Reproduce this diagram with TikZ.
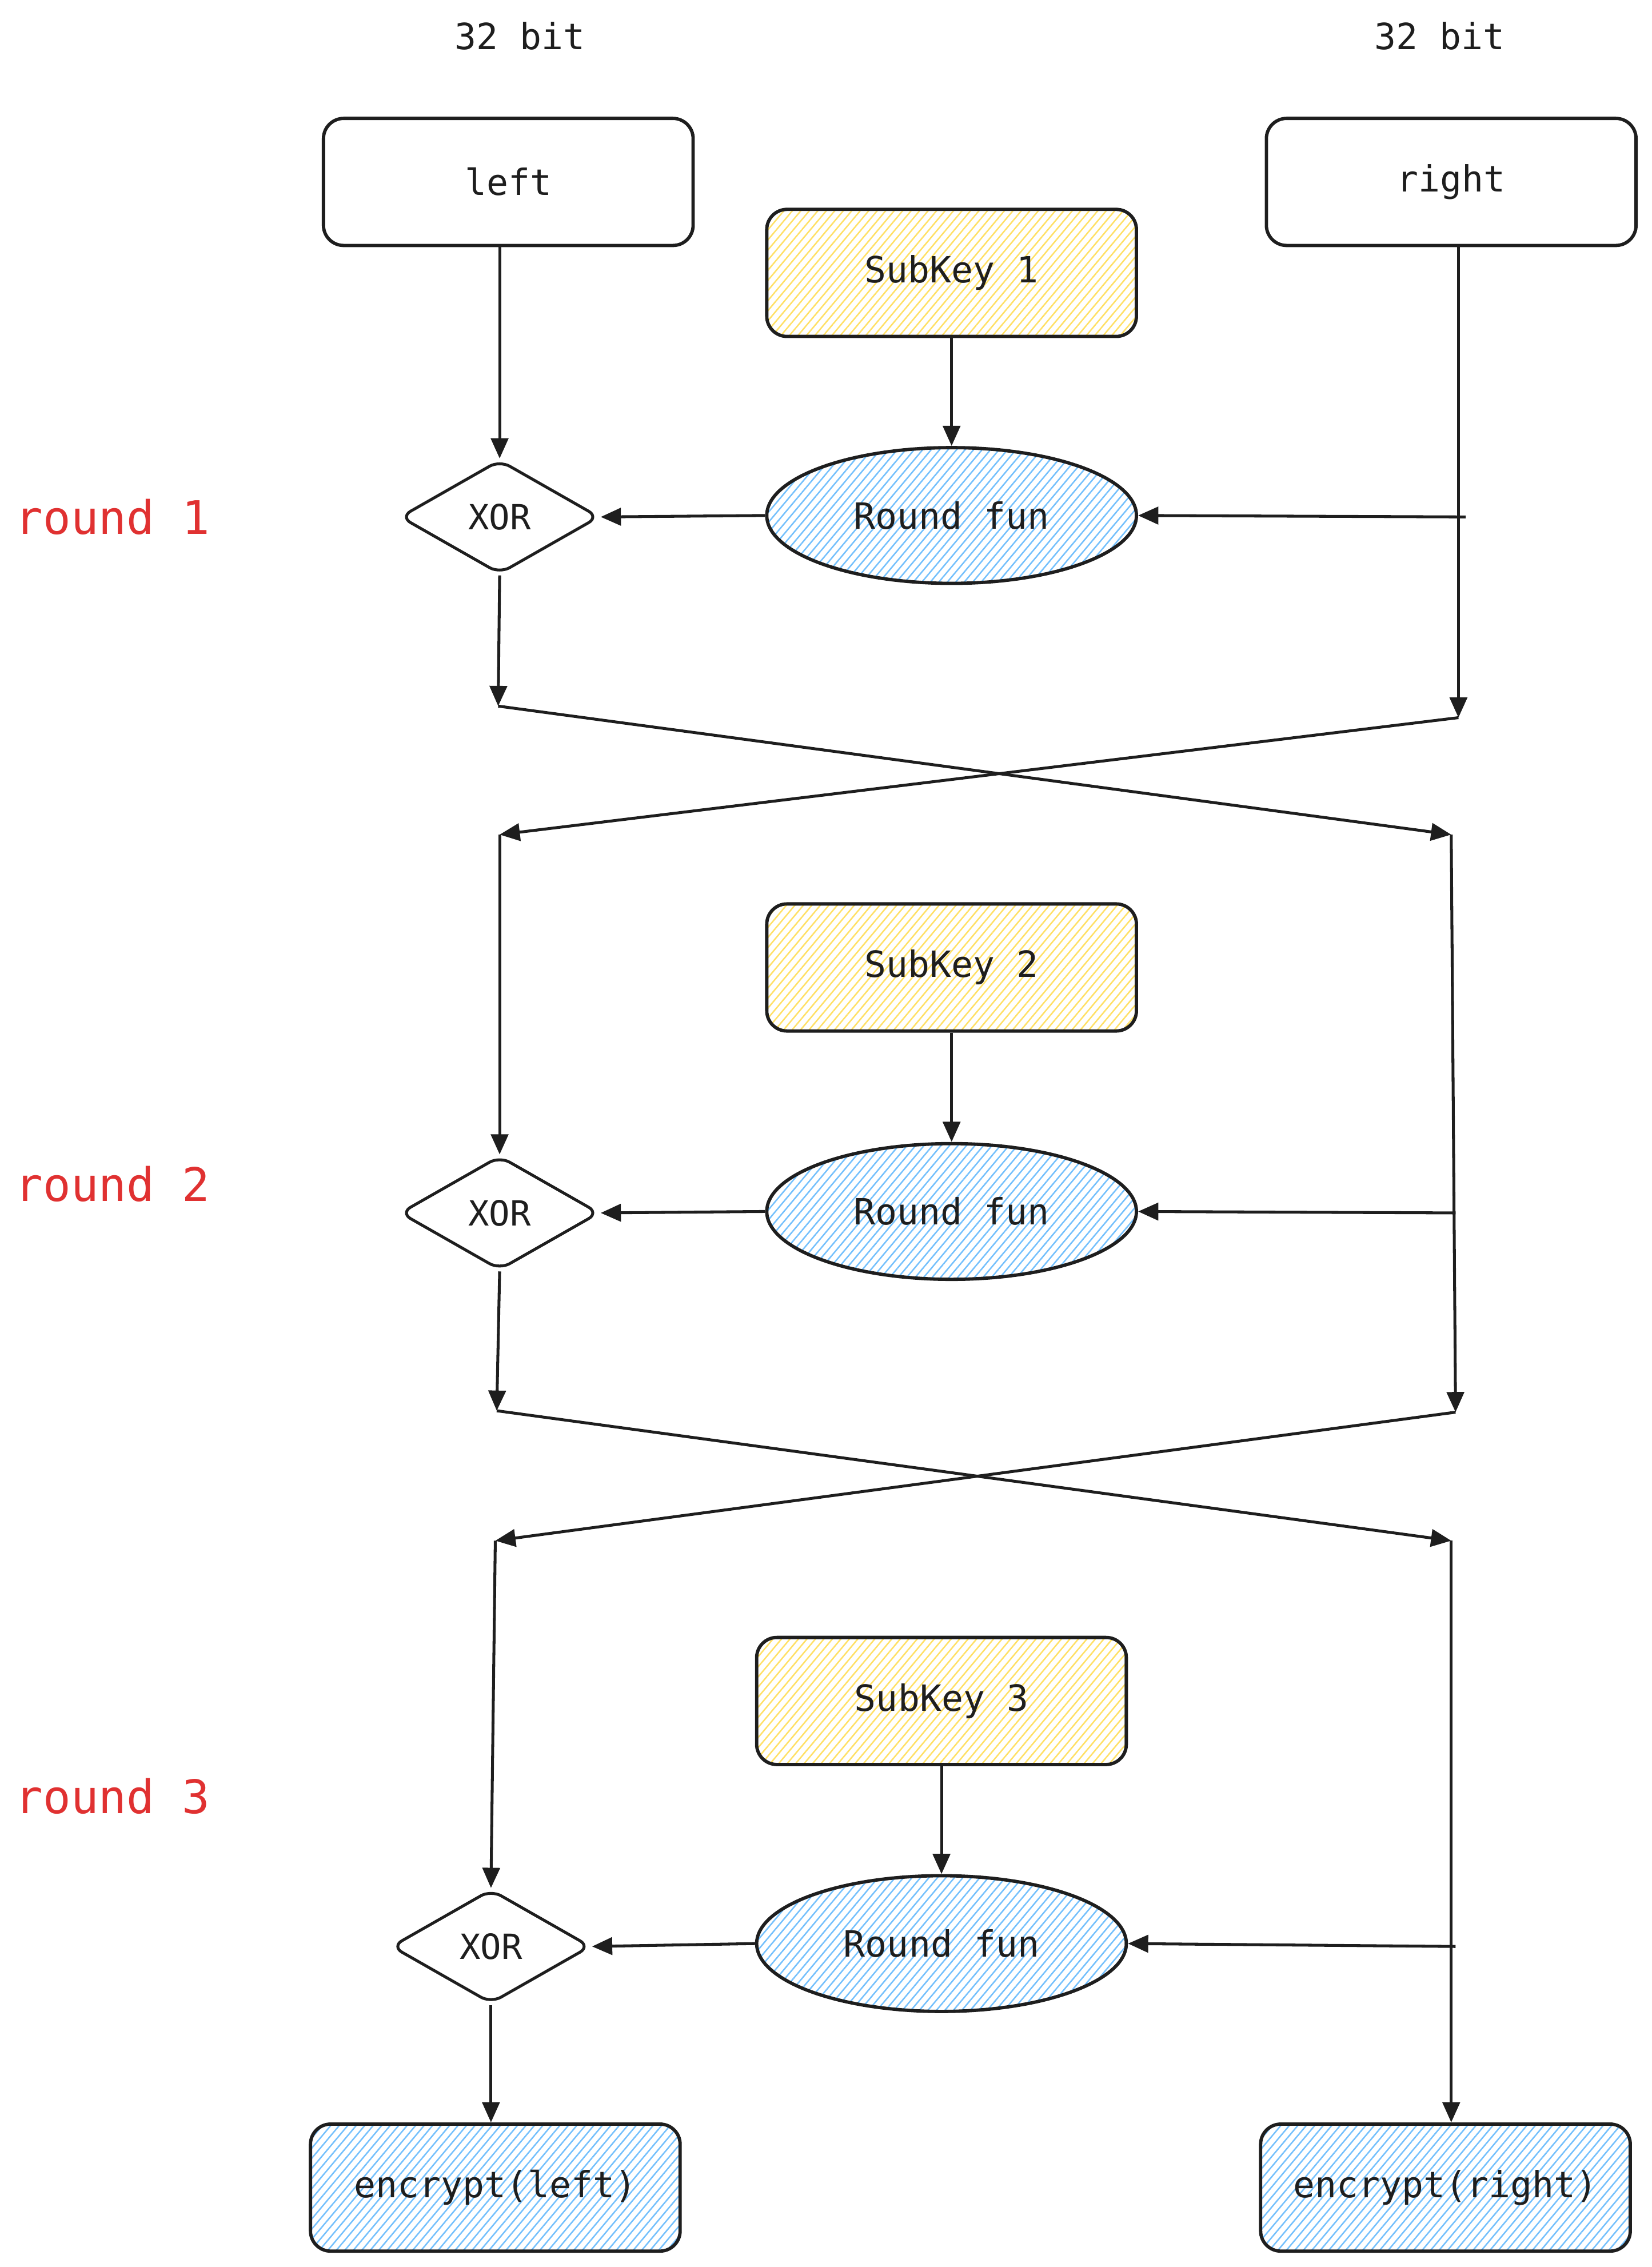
\documentclass[tikz,border=0pt]{standalone}
\usepackage{fontspec}
\setmonofont{DejaVu Sans Mono}
\usetikzlibrary{shapes.geometric,arrows.meta,patterns.meta}
\definecolor{ink}{HTML}{1E1E1E}
\definecolor{keyyellow}{HTML}{FFE066}
\definecolor{funblue}{HTML}{74C0FC}
\definecolor{roundred}{HTML}{E03131}
\begin{document}
\begin{tikzpicture}[x=1pt,y=-1pt,
  every node/.style={font=\ttfamily\fontsize{25}{30}\selectfont,text=ink},
  halfbox/.style={draw=ink,line width=2.3pt,rounded corners=14pt,minimum width=256pt,minimum height=88pt},
  keybox/.style={halfbox,pattern={Lines[angle=50,distance=4.5pt,line width=1pt]},pattern color=keyyellow},
  outbox/.style={halfbox,pattern={Lines[angle=50,distance=4.5pt,line width=1pt]},pattern color=funblue},
  funell/.style={ellipse,draw=ink,line width=2.3pt,minimum width=256pt,minimum height=94pt,
    pattern={Lines[angle=50,distance=4.5pt,line width=1pt]},pattern color=funblue},
  xorbox/.style={diamond,draw=ink,line width=2pt,rounded corners=8pt,aspect=1.75,inner sep=0pt,
    minimum width=138pt,minimum height=79pt,font=\ttfamily\fontsize{24}{28}\selectfont},
  roundlbl/.style={font=\ttfamily\fontsize{32}{38}\selectfont,text=roundred},
  flow/.style={draw=ink,line width=2pt,-{Triangle[length=14pt,width=12pt]}}]
\useasboundingbox (0,0) rectangle (1144,1570);

\node at (360,25) (bitL) {32 bit};
\node at (997,25) (bitR) {32 bit};
\node[halfbox] at (352,126) (left) {left};
\node[halfbox] at (1005,126) (right) {right};

% round 1
\node[roundlbl] at (78,358) (lbl1) {round 1};
\node[keybox] at (659,189) (key1) {SubKey 1};
\node[funell] at (659,357) (fun1) {Round fun};
\node[xorbox] at (346,358) (xor1) {XOR};
\coordinate (t1) at (1015,358);
\coordinate (a1) at (345,489);
\coordinate (b1) at (1010,497);
\coordinate (c1l) at (346,578);
\coordinate (c1r) at (1005,578);
\draw[flow] (left.south -| xor1.north) -- (xor1.north);
\draw[flow] (key1) -- (fun1);
\draw[flow] (t1) -- (fun1.east);
\draw[flow] (fun1.west) -- (xor1.east);
\draw[flow] (right.south -| b1) -- (b1);
\draw[flow] (xor1.south) -- (a1);
\draw[flow] (a1) -- (c1r);
\draw[flow] (b1) -- (c1l);

% round 2
\node[roundlbl] at (78,820) (lbl2) {round 2};
\node[keybox] at (659,670) (key2) {SubKey 2};
\node[funell] at (659,839) (fun2) {Round fun};
\node[xorbox] at (346,840) (xor2) {XOR};
\coordinate (t2) at (1008,840);
\coordinate (a2) at (344,977);
\coordinate (b2) at (1008,978);
\coordinate (c2l) at (343,1067);
\coordinate (c2r) at (1005,1067);
\draw[flow] (c1l) -- (xor2.north);
\draw[flow] (c1r) -- (b2);
\draw[flow] (key2) -- (fun2);
\draw[flow] (t2) -- (fun2.east);
\draw[flow] (fun2.west) -- (xor2.east);
\draw[flow] (xor2.south) -- (a2);
\draw[flow] (a2) -- (c2r);
\draw[flow] (b2) -- (c2l);

% round 3
\node[roundlbl] at (78,1244) (lbl3) {round 3};
\node[keybox] at (652,1178) (key3) {SubKey 3};
\node[funell] at (652,1346) (fun3) {Round fun};
\node[xorbox] at (340,1348) (xor3) {XOR};
\node[outbox] at (343,1515) (encL) {encrypt(left)};
\node[outbox] at (1001,1515) (encR) {encrypt(right)};
\coordinate (t3) at (1008,1348);
\draw[flow] (c2l) -- (xor3.north);
\draw[flow] (c2r) -- (encR.north -| c2r);
\draw[flow] (key3) -- (fun3);
\draw[flow] (t3) -- (fun3.east);
\draw[flow] (fun3.west) -- (xor3.east);
\draw[flow] (xor3.south) -- (encL.north -| xor3.south);

\end{tikzpicture}
\end{document}
